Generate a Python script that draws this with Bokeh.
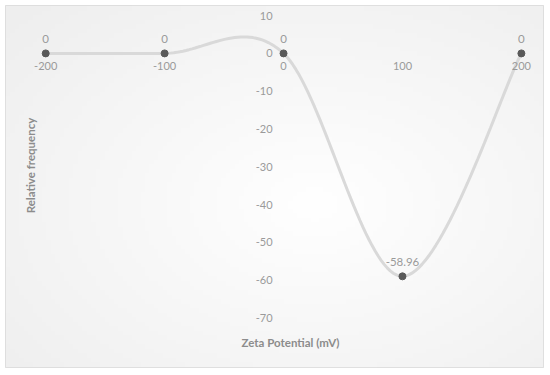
import numpy as np
from bokeh.plotting import figure
from bokeh.core.properties import value
from bokeh.models import LinearAxis, FixedTicker, Label, Range1d, ColumnDataSource, LabelSet
from bokeh.embed import file_html
from bokeh.resources import INLINE

# ---- data ----
zeta = [-200, -100, 0, 100, 200]
freq = [0, 0, 0, -58.96, 0]
point_labels = ["0", "0", "0", "-58.96", "0"]
x_ticks = [-200, -100, 0, 100, 200]
y_ticks = [10, 0, -10, -20, -30, -40, -50, -60, -70]
x_title = "Zeta Potential (mV)"
y_title = "Relative frequency"


def smooth(xs, ys, n=40):
    P = np.column_stack([xs, ys]).astype(float)
    ext = np.vstack([P[0], P, P[-1]])
    out = []
    for i in range(len(P) - 1):
        p0, p1, p2, p3 = ext[i], ext[i + 1], ext[i + 2], ext[i + 3]
        c1 = p1 + (p2 - p0) / 6
        c2 = p2 - (p3 - p1) / 6
        t = np.linspace(0, 1, n)[:, None]
        seg = (1 - t) ** 3 * p1 + 3 * (1 - t) ** 2 * t * c1 + 3 * (1 - t) * t ** 2 * c2 + t ** 3 * p2
        out.append(seg if i == 0 else seg[1:])
    arr = np.vstack(out)
    return arr[:, 0], arr[:, 1]


FONT = "Lato"
W, H = 548, 372
xr = Range1d(-233.8, 218.6)
yr = Range1d(-83.07, 12.67)

p = figure(width=W, height=H, x_range=xr, y_range=yr, x_axis_type=None, y_axis_type=None,
           toolbar_location=None, output_backend="svg",
           min_border_left=5, min_border_top=5, min_border_right=5, min_border_bottom=5,
           outline_line_color="#D9D9D9", border_fill_color="white", background_fill_color="white")
p.xgrid.visible = False
p.ygrid.visible = False

# radial gradient background
nx, ny = 120, 80
gx, gy = np.meshgrid(np.linspace(-1, 1, nx), np.linspace(-1, 1, ny))
d = np.sqrt(((gx - 0.15) / 1.3) ** 2 + ((gy + 0.1) / 1.3) ** 2)
v = np.clip(255 - 14 * d, 238, 255).astype(np.uint32)
img = (255 << 24) | (v << 16) | (v << 8) | v
p.image_rgba(image=[img.astype(np.uint32)], x=xr.start, y=yr.start,
             dw=xr.end - xr.start, dh=yr.end - yr.start)

sx, sy = smooth(zeta, freq)
p.line(sx, sy, line_color="#D9D9D9", line_width=3)
src = ColumnDataSource(dict(x=zeta, y=freq, lab=point_labels))
p.scatter("x", "y", source=src, size=7, fill_color="#595959", line_color="#595959")
p.add_layout(LabelSet(x="x", y="y", text="lab", source=src, y_offset=10, text_align="center",
                      text_baseline="bottom", text_font=value(FONT), text_font_size=value("11.5px"),
                      text_color="#9A9A9A"))

common = dict(fixed_location=0, axis_line_color=None, major_tick_line_color=None,
              minor_tick_line_color=None, major_tick_out=0, major_tick_in=0,
              major_label_text_font=FONT, major_label_text_font_size="11px",
              major_label_text_color="#9A9A9A")
xa = LinearAxis(ticker=FixedTicker(ticks=x_ticks), major_label_standoff=9,
                major_label_overrides={t: str(t) for t in x_ticks}, **common)
ya = LinearAxis(ticker=FixedTicker(ticks=y_ticks), major_label_standoff=11,
                major_label_overrides={t: str(t) for t in y_ticks}, **common)
p.add_layout(xa, "below")
p.add_layout(ya, "left")

p.add_layout(Label(x=285, y=H - 347, x_units="screen", y_units="screen", text=x_title,
                   text_align="center", text_baseline="middle", text_font=FONT,
                   text_font_size="11.5px", text_font_style="bold", text_color="#8C8C8C"))
p.add_layout(Label(x=25, y=H - 170, x_units="screen", y_units="screen", text=y_title, angle=np.pi / 2,
                   text_align="center", text_baseline="middle", text_font=FONT,
                   text_font_size="11.5px", text_font_style="bold", text_color="#8C8C8C"))

open("out.html", "w").write(file_html(p, INLINE))
